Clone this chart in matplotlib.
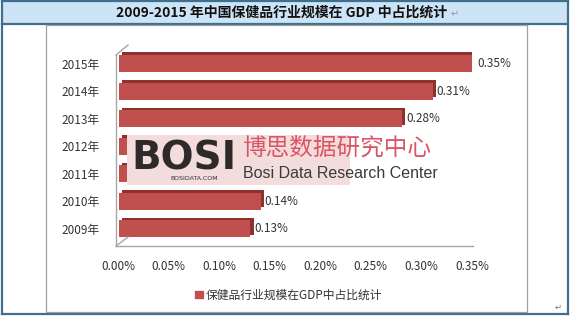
import numpy as np
import matplotlib.pyplot as plt
from matplotlib.patches import Rectangle
from matplotlib.lines import Line2D

plt.rcParams['font.family'] = ['Noto Sans CJK SC', 'DejaVu Sans']

years = ['2009年', '2010年', '2011年', '2012年', '2013年', '2014年', '2015年']
# 2011/2012 are hidden behind the watermark in the source; estimated
share = [0.13, 0.14, 0.16, 0.20, 0.28, 0.31, 0.35]
hidden = ['2011年', '2012年']  # labels covered by the watermark
xticks = [0.00, 0.05, 0.10, 0.15, 0.20, 0.25, 0.30, 0.35]
title = '2009-2015 年中国保健品行业规模在 GDP 中占比统计'
series_name = '保健品行业规模在GDP中占比统计'

W, H = 571, 317


def px(x, y):
    return x / W, 1 - y / H


def main():
    fig = plt.figure(figsize=(W / 100, H / 100), dpi=100)
    tf = fig.transFigure

    # table frame
    fig.add_artist(Rectangle(px(2, 24), 566 / W, 24 / H, transform=tf,
                             facecolor='#cde4f6', edgecolor='none', zorder=-5))
    frame = '#3f6f8e'
    for (x0, y0, x1, y1) in [(2, 0.5, 568, 0.5), (2, 24, 568, 24), (2, 314, 568, 314),
                             (2, 0, 2, 314), (568, 0, 568, 314)]:
        (a, b), (c, d) = px(x0, y0), px(x1, y1)
        fig.add_artist(Line2D([a, c], [b, d], transform=tf, color=frame, lw=1.6, zorder=-4))
    # inner chart border
    fig.add_artist(Rectangle(px(46, 312), (527 - 46) / W, (312 - 25) / H, transform=tf,
                             facecolor='white', edgecolor='#a0a0a0', lw=0.9, zorder=-3))

    fig.text(*px(282, 13), title, ha='center', va='center', fontsize=10,
             fontweight='bold', color='#111111')
    fig.text(*px(455, 14), '↵', ha='center', va='center', fontsize=7, color='#9a9a9a')
    fig.text(*px(558, 307), '↵', ha='center', va='center', fontsize=6, color='#777777')

    ax = fig.add_axes([118 / W, 1 - 246 / H, 354 / W, 201 / H])
    ax.set_facecolor('none')
    y = np.arange(len(years))
    # back face gives the 3d top/right edges
    ax.barh(y + 0.1, share, left=0.004, height=0.62, color='#8e302d', zorder=2)
    ax.barh(y, share, left=0.001, height=0.62, color='#c0504d', zorder=3)
    for yi, v, yr in zip(y, share, years):
        if yr in hidden:
            continue
        ax.text(v + 0.005, yi, f'{v:.2f}%', va='center', ha='left', fontsize=8.5,
                color='#333333', zorder=4)

    ax.set_xlim(0, 0.35)
    ax.set_ylim(-0.62, 6.68)
    ax.set_xticks(xticks)
    ax.set_xticklabels([f'{v:.2f}%' for v in xticks])
    ax.set_yticks(y)
    ax.set_yticklabels(years)
    ax.tick_params(axis='both', length=0, labelsize=8.5, colors='#333333')
    ax.tick_params(axis='x', pad=10)
    ax.tick_params(axis='y', pad=13)
    for s in ax.spines.values():
        s.set_visible(False)

    # 3d wall / floor lines
    wall = '#a6a6a6'
    for (x0, y0, x1, y1) in [(116, 55, 116, 246), (116, 55, 128, 45),
                             (116, 246, 473, 246), (116, 246, 128, 237)]:
        (a, b), (c, d) = px(x0, y0), px(x1, y1)
        fig.add_artist(Line2D([a, c], [b, d], transform=tf, color=wall, lw=1.0, zorder=1))

    leg = ax.legend([Rectangle((0, 0), 1, 1, color='#c0504d')], [series_name],
                    loc='center', bbox_to_anchor=px(289, 295), bbox_transform=tf,
                    frameon=False, handlelength=0.6, handleheight=0.6,
                    handletextpad=0.3, fontsize=8.5)
    for t in leg.get_texts():
        t.set_color('#333333')

    # watermark
    fig.add_artist(Rectangle(px(127, 185), (440 - 127) / W, 50 / H, transform=tf,
                             facecolor='white', edgecolor='none', zorder=10))
    fig.add_artist(Rectangle(px(127, 185), (350 - 127) / W, 50 / H, transform=tf,
                             facecolor='#f3dcdc', edgecolor='none', zorder=11))
    fig.text(*px(131, 158), 'BOSI', ha='left', va='center', fontsize=28,
             fontweight='heavy', color='#2e2a2a', family=['DejaVu Sans'], zorder=12)
    fig.text(*px(194, 179), 'BOSIDATA.COM', ha='center', va='center', fontsize=4.5,
             color='#333333', family=['DejaVu Sans'], zorder=12)
    fig.text(*px(242, 148), '博思数据研究中心', ha='left', va='center', fontsize=17,
             color='#dc5565', zorder=12)
    fig.text(*px(243, 174), 'Bosi Data Research Center', ha='left', va='center',
             fontsize=11.5, color='#3a3a3a', family=['Liberation Sans'], zorder=12)

    fig.savefig('out.png', dpi=100)


if __name__ == '__main__':
    main()
